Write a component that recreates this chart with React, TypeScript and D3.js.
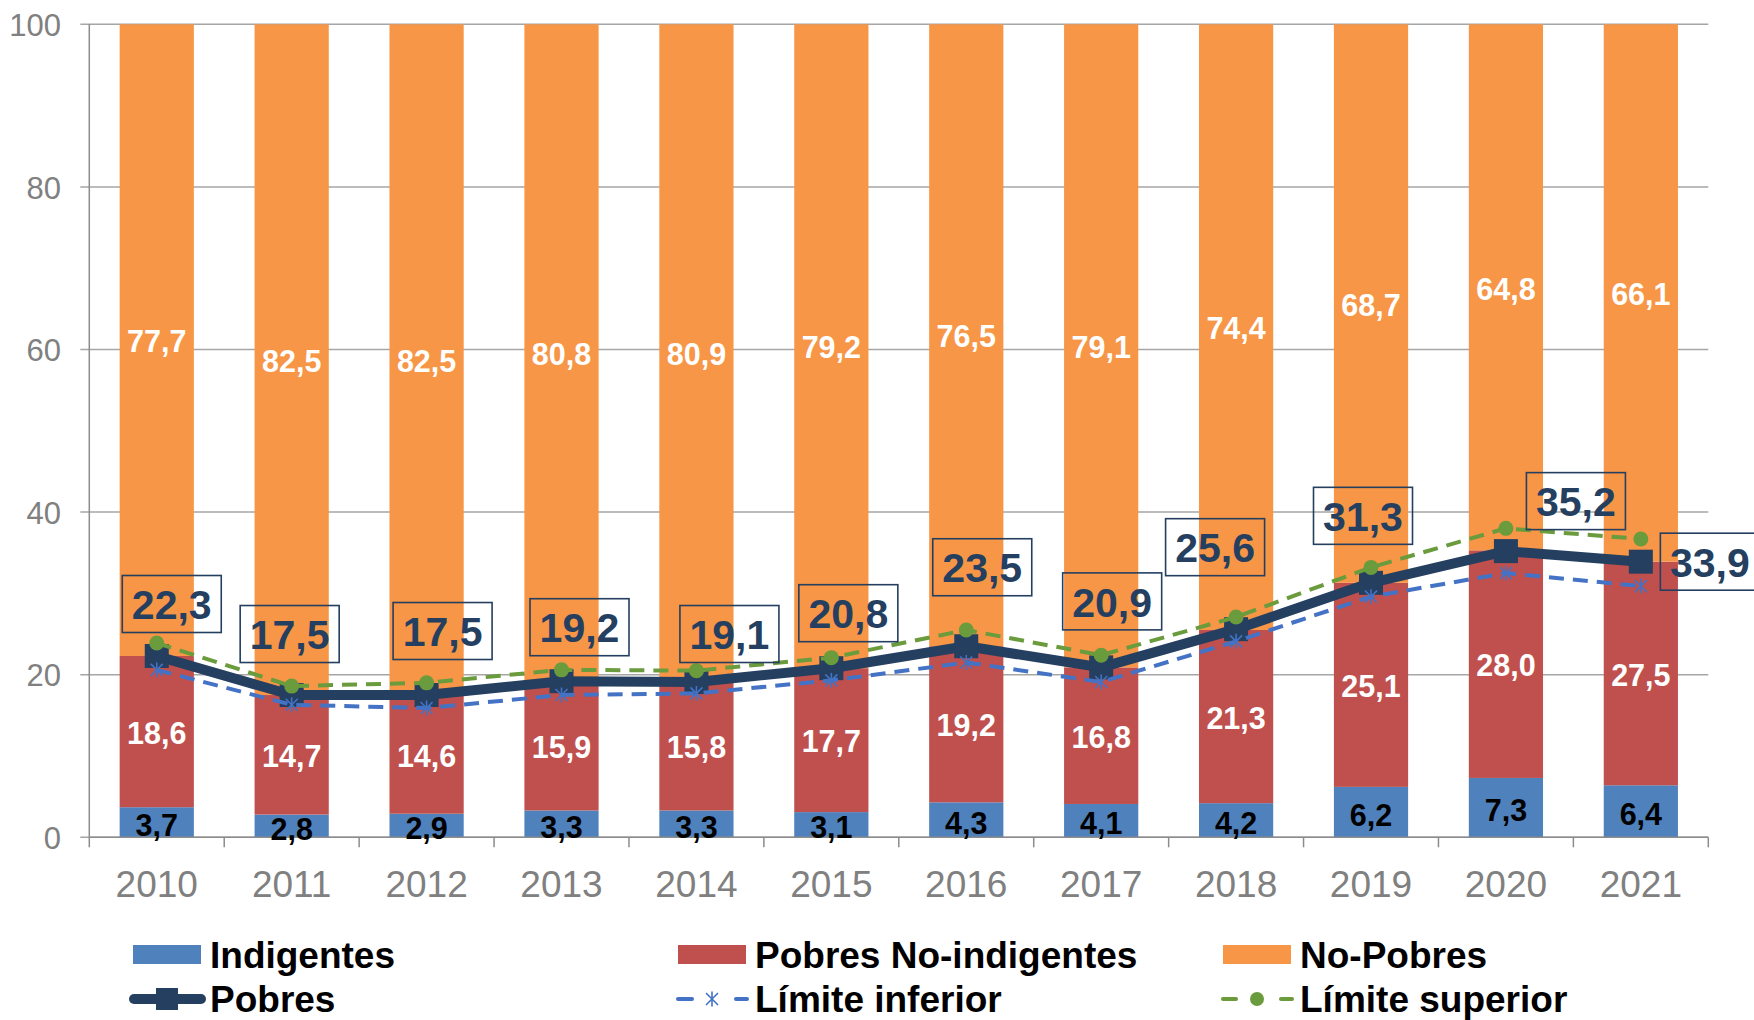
import React from "react";
import * as d3 from "d3";

const years = ["2010","2011","2012","2013","2014","2015","2016","2017","2018","2019","2020","2021"];
const indigentes = [3.7, 2.8, 2.9, 3.3, 3.3, 3.1, 4.3, 4.1, 4.2, 6.2, 7.3, 6.4];
const pobresNoIndigentes = [18.6, 14.7, 14.6, 15.9, 15.8, 17.7, 19.2, 16.8, 21.3, 25.1, 28.0, 27.5];
const noPobres = [77.7, 82.5, 82.5, 80.8, 80.9, 79.2, 76.5, 79.1, 74.4, 68.7, 64.8, 66.1];
const pobres = [22.3, 17.5, 17.5, 19.2, 19.1, 20.8, 23.5, 20.9, 25.6, 31.3, 35.2, 33.9];
const limiteInferior = [20.6, 16.3, 15.9, 17.5, 17.7, 19.3, 21.5, 19.1, 24.1, 29.6, 32.5, 30.9];
const limiteSuperior = [23.9, 18.6, 19.0, 20.6, 20.5, 22.1, 25.5, 22.4, 27.1, 33.2, 38.0, 36.7];
const yTicks = [0, 20, 40, 60, 80, 100];

// manual label nudges (px) for the "Pobres" value boxes, relative to the point
const pobresLabelNudge: [number, number][] = [
  [15, -52], [-2, -61], [16, -64], [18, -54], [33, -48], [17, -55],
  [16, -79], [11, -66], [-21, -82], [-8, -67], [70, -50], [69, 0],
];

const C_IND = "#4F81BD";
const C_PNI = "#C0504D";
const C_NP = "#F79646";
const C_NAVY = "#243F60";
const C_INF = "#4472C4";
const C_SUP = "#6A9B3C";
const FONT = "'Liberation Sans', Arial, Helvetica, sans-serif";

const fmt = (v: number) => v.toFixed(1).replace(".", ",");

function Asterisk({ x, y, s, color, w = 1.6 }: { x: number; y: number; s: number; color: string; w?: number }) {
  const d = s / 2;
  const k = d * 0.8;
  return (
    <g stroke={color} strokeWidth={w}>
      <line x1={x} y1={y - d} x2={x} y2={y + d} />
      <line x1={x - k} y1={y - k} x2={x + k} y2={y + k} />
      <line x1={x - k} y1={y + k} x2={x + k} y2={y - k} />
    </g>
  );
}

export default function App() {
  const W = 1754, H = 1020;
  const left = 89.3, right = 1708.3, top = 24.3, bottom = 837.3;

  const x = d3.scaleBand<string>().domain(years).range([left, right]).paddingInner(0.45).paddingOuter(0.225);
  const step = (right - left) / years.length;
  const y = d3.scaleLinear().domain([0, 100]).range([bottom, top]);
  const cx = (i: number) => (x(years[i]) as number) + x.bandwidth() / 2;

  const line = d3.line<number>().x((_, i) => cx(i)).y((d) => y(d));

  const segs = years.map((yr, i) => {
    const a = indigentes[i];
    const b = a + pobresNoIndigentes[i];
    return [
      { y0: 0, y1: a, c: C_IND, v: indigentes[i], tc: "#000" },
      { y0: a, y1: b, c: C_PNI, v: pobresNoIndigentes[i], tc: "#fff" },
      { y0: b, y1: 100, c: C_NP, v: noPobres[i], tc: "#fff" },
    ];
  });

  const boundaries = d3.range(years.length + 1).map((k) => left + k * step);

  return (
    <svg width={W} height={H} style={{ position: "absolute", left: 0, top: 0, background: "#fff" }} fontFamily={FONT}>
      <rect x={0} y={0} width={W} height={H} fill="#fff" />
      {/* gridlines */}
      {yTicks.map((t) => (
        <line key={"g" + t} x1={left - 9} x2={right} y1={y(t)} y2={y(t)} stroke="#A6A6A6" strokeWidth={1.5} />
      ))}
      {/* bars */}
      {segs.map((s, i) =>
        s.map((sg, j) => (
          <rect key={`b${i}-${j}`} x={x(years[i])} width={x.bandwidth()} y={y(sg.y1)} height={y(sg.y0) - y(sg.y1)} fill={sg.c} />
        ))
      )}
      {/* axes */}
      <line x1={left} x2={left} y1={top} y2={bottom} stroke="#8C8C8C" strokeWidth={1.5} />
      <line x1={left} x2={right} y1={bottom} y2={bottom} stroke="#8C8C8C" strokeWidth={1.5} />
      {boundaries.map((bx, k) => (
        <line key={"t" + k} x1={bx} x2={bx} y1={bottom} y2={bottom + 10} stroke="#8C8C8C" strokeWidth={1.5} />
      ))}
      {yTicks.map((t) => (
        <text key={"yl" + t} x={61} y={y(t)} dy="0.38em" textAnchor="end" fontSize={31} fill="#808080">{t}</text>
      ))}
      {years.map((yr, i) => (
        <text key={"xl" + yr} x={cx(i)} y={897} textAnchor="middle" fontSize={37} fill="#808080">{yr}</text>
      ))}
      {/* bar labels */}
      {segs.map((s, i) =>
        s.map((sg, j) => (
          <text key={`l${i}-${j}`} x={cx(i)} y={y((sg.y0 + sg.y1) / 2)} dy={j === 0 ? "0.45em" : "0.4em"} textAnchor="middle"
            fontSize={30.5} fontWeight="bold" fill={sg.tc}>{fmt(sg.v)}</text>
        ))
      )}
      {/* Pobres line */}
      <path d={line(pobres) || ""} fill="none" stroke={C_NAVY} strokeWidth={10} strokeLinejoin="round" />
      {pobres.map((v, i) => (
        <rect key={"pm" + i} x={cx(i) - 12} y={y(v) - 12} width={24} height={24} fill={C_NAVY} />
      ))}
      {/* Limite inferior */}
      <path d={line(limiteInferior) || ""} fill="none" stroke={C_INF} strokeWidth={4} strokeDasharray="15 9" />
      {limiteInferior.map((v, i) => (
        <Asterisk key={"im" + i} x={cx(i)} y={y(v)} s={15} color={C_INF} />
      ))}
      {/* Limite superior */}
      <path d={line(limiteSuperior) || ""} fill="none" stroke={C_SUP} strokeWidth={4} strokeDasharray="15 9" />
      {limiteSuperior.map((v, i) => (
        <circle key={"sm" + i} cx={cx(i)} cy={y(v)} r={7.5} fill={C_SUP} />
      ))}
      {/* Pobres labels */}
      {pobres.map((v, i) => {
        const bx = cx(i) + pobresLabelNudge[i][0];
        const by = y(v) + pobresLabelNudge[i][1];
        return (
          <g key={"pl" + i}>
            <rect x={bx - 49.5} y={by - 28.5} width={99} height={57} fill="none" stroke={C_NAVY} strokeWidth={1.6} />
            <text x={bx} y={by} dy="0.37em" textAnchor="middle" fontSize={41} fontWeight="bold" fill={C_NAVY}>{fmt(v)}</text>
          </g>
        );
      })}
      {/* legend */}
      <g fontSize={37} fontWeight="bold" fill="#000">
        <rect x={133} y={945} width={68} height={19} fill={C_IND} />
        <text x={210} y={967.5}>Indigentes</text>
        <rect x={678} y={945} width={68} height={19} fill={C_PNI} />
        <text x={755} y={967.5}>Pobres No-indigentes</text>
        <rect x={1223} y={945} width={68} height={19} fill={C_NP} />
        <text x={1300} y={967.5}>No-Pobres</text>

        <line x1={134} x2={201} y1={999} y2={999} stroke={C_NAVY} strokeWidth={10} strokeLinecap="round" />
        <rect x={156} y={988} width={22} height={22} fill={C_NAVY} />
        <text x={210} y={1012}>Pobres</text>

        <line x1={678} x2={692} y1={999} y2={999} stroke={C_INF} strokeWidth={4} strokeLinecap="round" />
        <line x1={736} x2={747} y1={999} y2={999} stroke={C_INF} strokeWidth={4} strokeLinecap="round" />
        <Asterisk x={712} y={999} s={15} color={C_INF} />
        <text x={755} y={1012}>Límite inferior</text>

        <line x1={1223} x2={1236} y1={999} y2={999} stroke={C_SUP} strokeWidth={4} strokeLinecap="round" />
        <line x1={1281} x2={1292} y1={999} y2={999} stroke={C_SUP} strokeWidth={4} strokeLinecap="round" />
        <circle cx={1257} cy={999} r={7} fill={C_SUP} />
        <text x={1300} y={1012}>Límite superior</text>
      </g>
    </svg>
  );
}
